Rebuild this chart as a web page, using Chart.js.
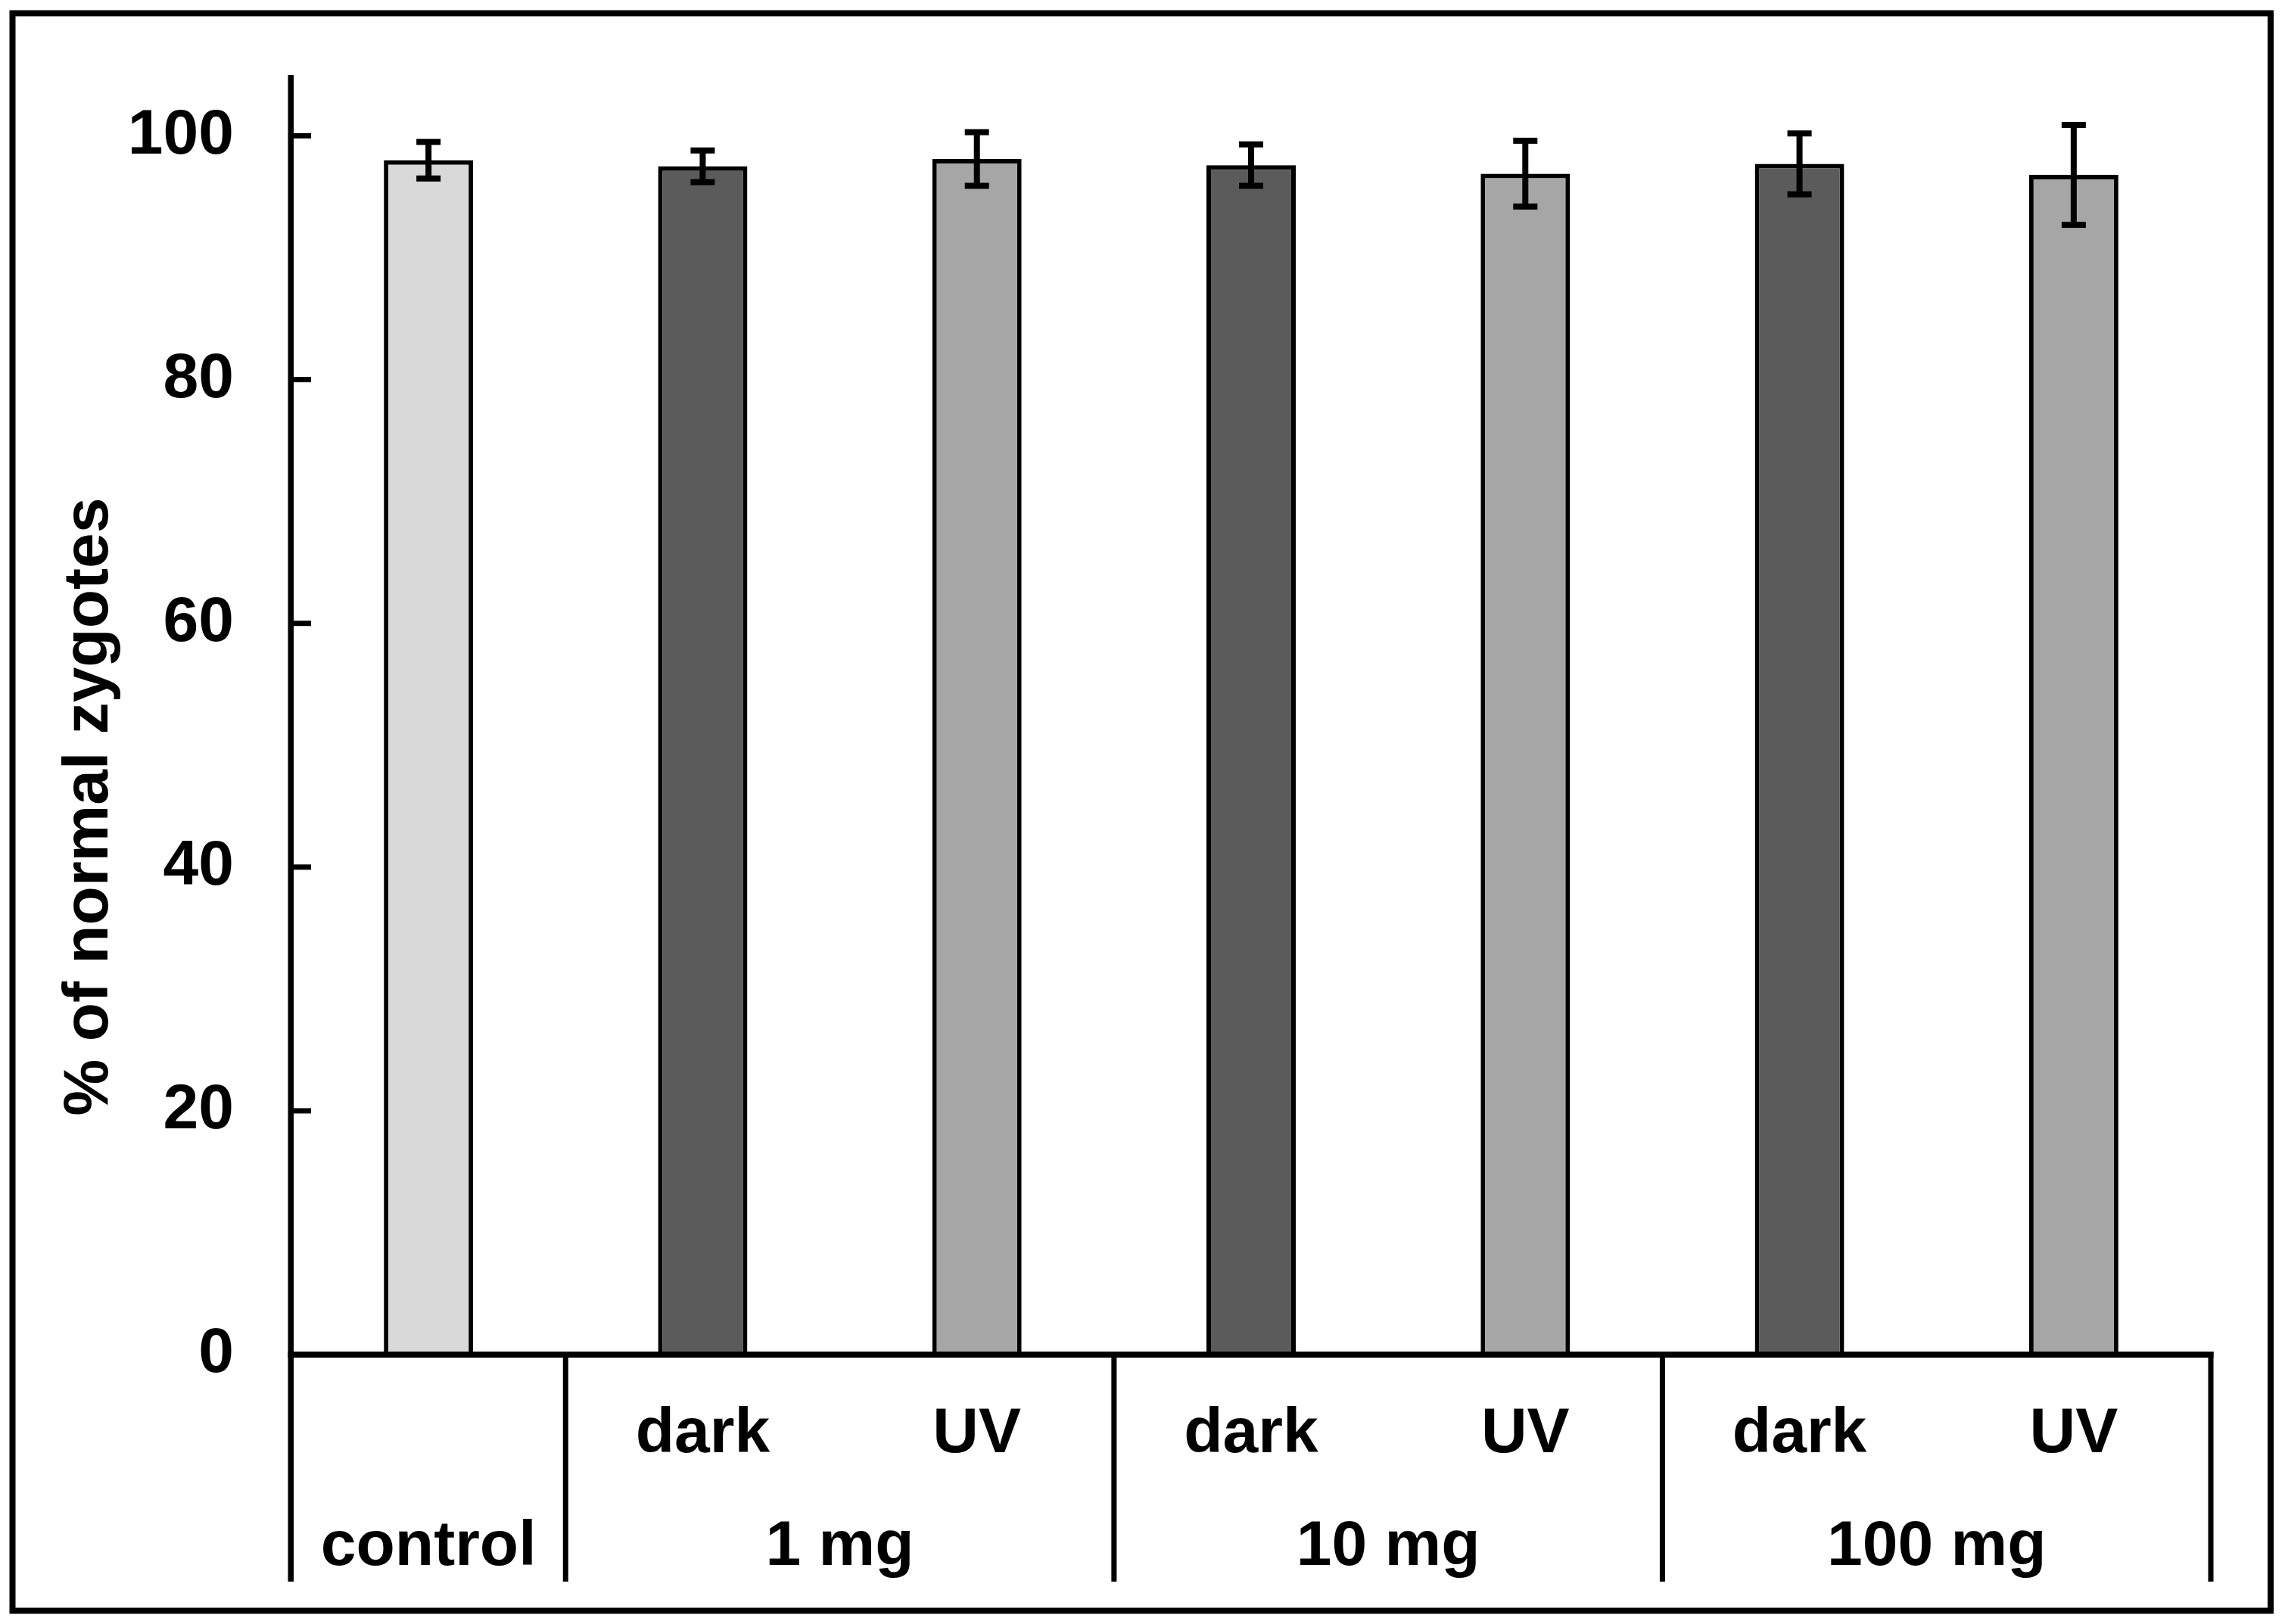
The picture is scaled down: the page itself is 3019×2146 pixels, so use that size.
<!DOCTYPE html>
<html><head><meta charset="utf-8">
<script src="https://cdn.jsdelivr.net/npm/chart.js@4.4.1/dist/chart.umd.min.js"></script>
<style>html,body{margin:0;padding:0;background:#fff;} #wrap{width:3019px;height:2146px;position:relative;background:#fff;}</style>
</head><body><div id="wrap"><canvas id="c" width="3019" height="2146"></canvas></div>
<script>
// ---- data ----
const categories = ['control', 'dark', 'UV', 'dark', 'UV', 'dark', 'UV'];
const groups = ['control', '1 mg', '10 mg', '100 mg'];
const groupSpans = [[0, 0], [1, 2], [3, 4], [5, 6]];
const values = [98.0, 97.5, 98.1, 97.6, 96.9, 97.7, 96.8];
const errors = [1.5, 1.3, 2.2, 1.7, 2.7, 2.5, 4.1];
const yTicks = [0, 20, 40, 60, 80, 100];
const yMax = 105;
const barColors = ['#d9d9d9', '#5b5b5b', '#a6a6a6', '#5b5b5b', '#a6a6a6', '#5b5b5b', '#a6a6a6'];
const yTitle = '% of normal zygotes';

const FONT = 'bold 84px "Liberation Sans", Arial, sans-serif';

const overlay = {
  id: 'overlay',
  afterDraw(chart) {
    const ctx = chart.ctx;
    const xs = chart.scales.x, ys = chart.scales.y;
    const ca = chart.chartArea;
    const tableBottom = 2090;
    ctx.save();
    ctx.fillStyle = '#000';
    ctx.strokeStyle = '#000';

    // error bars
    for (let i = 0; i < values.length; i++) {
      const x = xs.getPixelForValue(i);
      const yt = ys.getPixelForValue(values[i] + errors[i]);
      const yb = ys.getPixelForValue(values[i] - errors[i]);
      ctx.fillRect(x - 4, yt, 8, yb - yt);
      ctx.fillRect(x - 16, yt - 4, 32, 8);
      ctx.fillRect(x - 16, yb - 4, 32, 8);
    }

    // y axis line (extends into the category table)
    ctx.fillRect(ca.left - 4.5, ca.top, 7.5, tableBottom - ca.top);
    // inward tick marks
    yTicks.forEach(t => {
      const y = ys.getPixelForValue(t);
      ctx.fillRect(ca.left, y - 3.5, 26, 7);
    });
    // x axis line
    ctx.fillRect(ca.left - 4.5, ca.bottom - 4, ca.right - ca.left + 8, 8);
    // right table line
    ctx.fillRect(ca.right - 3.5, ca.bottom - 4, 7, tableBottom - ca.bottom + 4);
    // group separators
    for (let g = 1; g < groupSpans.length; g++) {
      const x = (xs.getPixelForValue(groupSpans[g][0]) + xs.getPixelForValue(groupSpans[g][0] - 1)) / 2;
      ctx.fillRect(x - 3.5, ca.bottom, 7, tableBottom - ca.bottom);
    }

    // labels
    ctx.font = FONT;
    ctx.textAlign = 'center';
    ctx.textBaseline = 'alphabetic';
    groupSpans.forEach((span, g) => {
      if (span[0] !== span[1]) {
        for (let i = span[0]; i <= span[1]; i++) {
          ctx.fillText(categories[i], xs.getPixelForValue(i), 1919);
        }
      }
      const cx = (xs.getPixelForValue(span[0]) + xs.getPixelForValue(span[1])) / 2;
      ctx.fillText(groups[g], cx, 2068);
    });

    // y title
    ctx.save();
    ctx.translate(142, 1066);
    ctx.rotate(-Math.PI / 2);
    ctx.fillText(yTitle, 0, 0);
    ctx.restore();

    // outer frame
    ctx.lineWidth = 8;
    ctx.strokeRect(16.5, 17.5, 3000 - 16.5, 2128.5 - 17.5);
    ctx.restore();
  }
};

new Chart(document.getElementById('c'), {
  type: 'bar',
  data: {
    labels: categories,
    datasets: [{
      data: values,
      backgroundColor: barColors,
      borderColor: '#000',
      borderWidth: 6,
      barPercentage: 0.3257,
      categoryPercentage: 1.0
    }]
  },
  options: {
    responsive: false,
    devicePixelRatio: 1,
    animation: false,
    layout: { padding: { left: 0, right: 98, top: 99, bottom: 356 } },
    plugins: { legend: { display: false }, tooltip: { enabled: false } },
    scales: {
      x: { type: 'category', display: false, offset: true },
      y: {
        min: 0, max: yMax,
        afterFit(scale) {
          scale.width = 385;
          scale.paddingTop = 0; scale.paddingBottom = 0;
          scale.paddingLeft = 0; scale.paddingRight = 0;
        },
        afterBuildTicks(scale) { scale.ticks = yTicks.map(v => ({ value: v })); },
        grid: { display: false, drawTicks: false },
        border: { display: false },
        ticks: {
          padding: 76,
          color: '#000',
          font: { family: '"Liberation Sans", Arial, sans-serif', size: 84, weight: 'bold' }
        }
      }
    }
  },
  plugins: [overlay]
});
</script>
</body></html>
